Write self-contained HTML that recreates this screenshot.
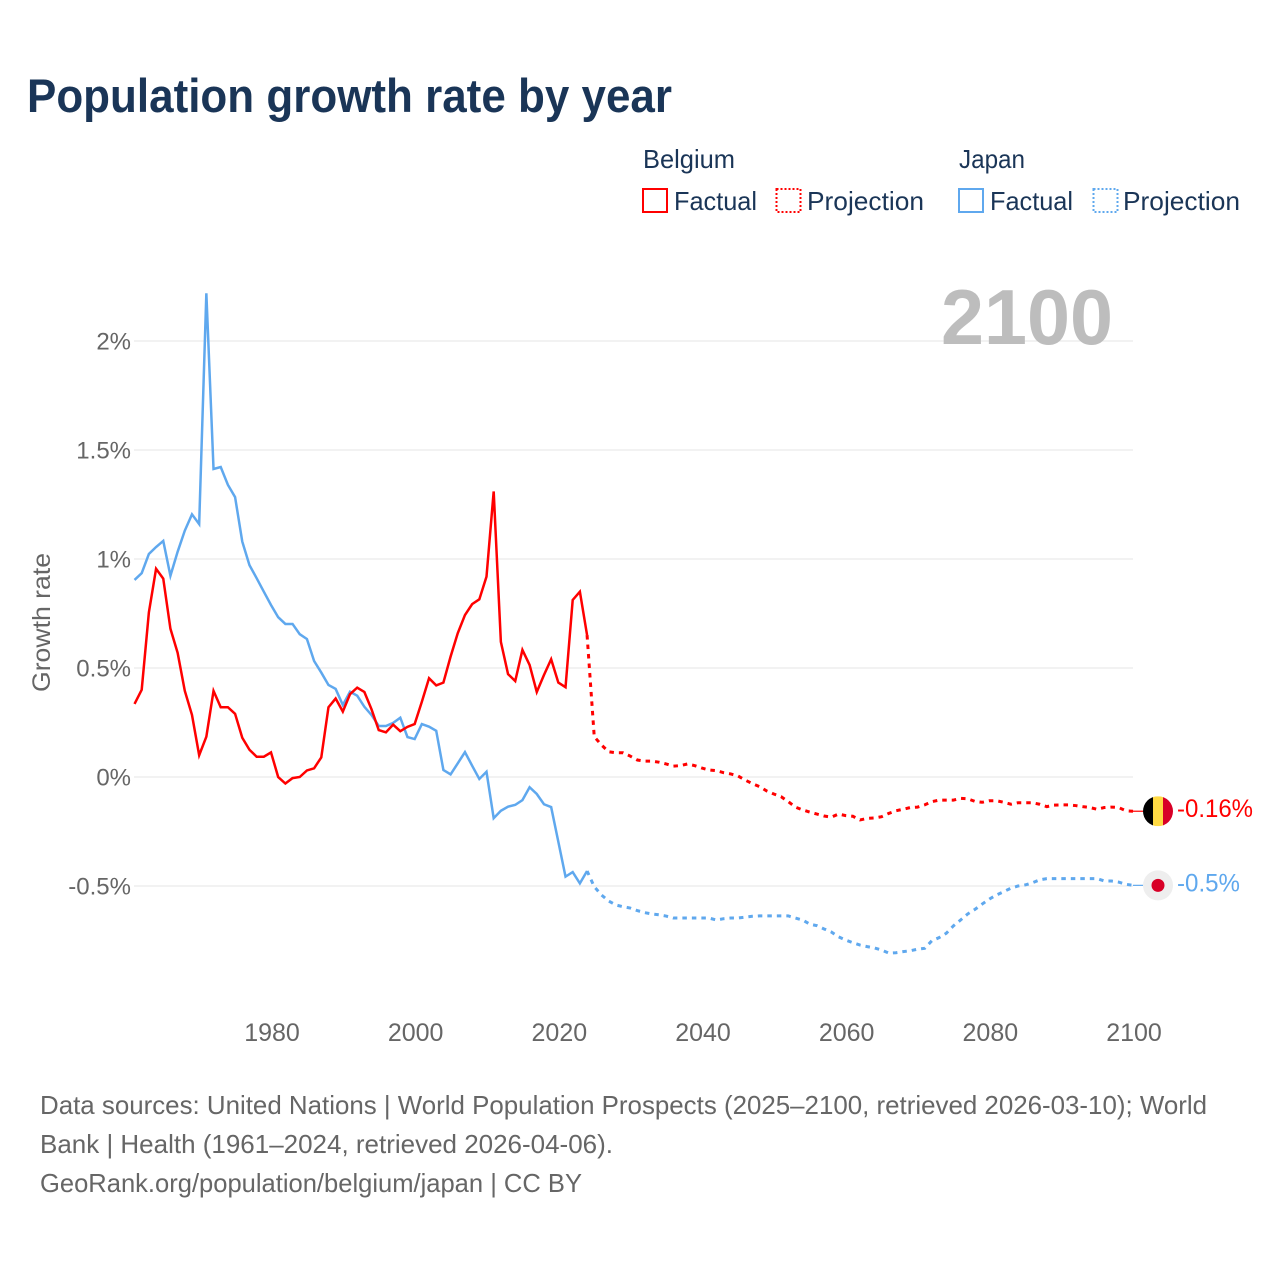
<!DOCTYPE html>
<html lang="en">
<head>
<meta charset="utf-8">
<title>Population growth rate by year</title>
<style>
html,body{margin:0;padding:0;background:#fff;}
svg{display:block;font-family:"Liberation Sans",sans-serif;}
</style>
</head>
<body>
<svg id="chart" width="1280" height="1280" viewBox="0 0 1280 1280" xmlns="http://www.w3.org/2000/svg">
  <rect width="1280" height="1280" fill="#ffffff"/>
  <text x="27" y="112" font-size="47" font-weight="700" fill="#1a3557" textLength="645" lengthAdjust="spacingAndGlyphs">Population growth rate by year</text>

  <g font-size="26" fill="#1a3557">
    <text x="643" y="168" textLength="92" lengthAdjust="spacingAndGlyphs">Belgium</text>
    <rect x="643" y="189" width="24" height="23" fill="none" stroke="#ff0000" stroke-width="2"/>
    <text x="674" y="210" textLength="83" lengthAdjust="spacingAndGlyphs">Factual</text>
    <rect x="776.5" y="189" width="24" height="23" fill="none" stroke="#ff0000" stroke-width="2" stroke-dasharray="2 2"/>
    <text x="807" y="210" textLength="117" lengthAdjust="spacingAndGlyphs">Projection</text>
    <text x="959" y="168" textLength="66" lengthAdjust="spacingAndGlyphs">Japan</text>
    <rect x="959" y="189" width="24" height="23" fill="none" stroke="#5fa8ee" stroke-width="2"/>
    <text x="990" y="210" textLength="83" lengthAdjust="spacingAndGlyphs">Factual</text>
    <rect x="1093.5" y="189" width="24" height="23" fill="none" stroke="#5fa8ee" stroke-width="2" stroke-dasharray="2 2"/>
    <text x="1123" y="210" textLength="117" lengthAdjust="spacingAndGlyphs">Projection</text>
  </g>

  <g id="grid"></g>
  <g id="yticks"></g>
  <g id="xticks"></g>

  <text transform="translate(50,692) rotate(-90)" font-size="25" fill="#666666" textLength="139" lengthAdjust="spacingAndGlyphs">Growth rate</text>
  <text x="941" y="344" font-size="78" font-weight="700" fill="#bdbdbd" textLength="172" lengthAdjust="spacingAndGlyphs">2100</text>

  <g id="series"></g>

  <g id="end-markers">
    <g id="flag-belgium">
      <clipPath id="be-clip"><circle cx="1158" cy="0" r="15"/></clipPath>
      <g clip-path="url(#be-clip)">
        <rect x="1143" y="-15" width="10" height="30" fill="#000000"/>
        <rect x="1153" y="-15" width="10" height="30" fill="#ffda44"/>
        <rect x="1163" y="-15" width="10" height="30" fill="#d80027"/>
      </g>
    </g>
    <g id="flag-japan">
      <circle cx="1158" cy="0" r="15" fill="#eeeeee"/>
      <circle cx="1158" cy="0" r="6.5" fill="#d80027"/>
    </g>
    <text id="label-belgium" x="1177" font-size="25" fill="#ff0000" textLength="76" lengthAdjust="spacingAndGlyphs"></text>
    <text id="label-japan" x="1177" font-size="25" fill="#5fa8ee" textLength="63" lengthAdjust="spacingAndGlyphs"></text>
  </g>

  <g font-size="26" fill="#666666">
    <text x="40" y="1114" textLength="1167" lengthAdjust="spacingAndGlyphs">Data sources: United Nations | World Population Prospects (2025–2100, retrieved 2026-03-10); World</text>
    <text x="40" y="1153" textLength="573" lengthAdjust="spacingAndGlyphs">Bank | Health (1961–2024, retrieved 2026-04-06).</text>
    <text x="40" y="1192" textLength="542" lengthAdjust="spacingAndGlyphs">GeoRank.org/population/belgium/japan | CC BY</text>
  </g>
</svg>

<script>
const factualStartYear = 1961;
const projectionStartYear = 2024;

const belgiumFactual = [0.335,0.40,0.755,0.955,0.91,0.68,0.57,0.395,0.285,0.10,0.185,0.395,0.32,0.32,0.29,0.18,0.125,0.093,0.093,0.113,0.0,-0.03,-0.005,0.0,0.03,0.04,0.09,0.32,0.36,0.30,0.38,0.41,0.39,0.31,0.215,0.205,0.24,0.21,0.23,0.243,0.345,0.453,0.42,0.433,0.552,0.66,0.743,0.793,0.815,0.919,1.31,0.62,0.472,0.44,0.583,0.514,0.39,0.468,0.54,0.433,0.412,0.812,0.85,0.651];

const belgiumProjection = [0.651,0.185,0.147,0.116,0.111,0.111,0.096,0.078,0.073,0.073,0.068,0.06,0.05,0.052,0.06,0.052,0.041,0.032,0.029,0.02,0.014,0.005,-0.014,-0.03,-0.044,-0.064,-0.078,-0.09,-0.113,-0.138,-0.151,-0.161,-0.17,-0.179,-0.184,-0.17,-0.177,-0.18,-0.197,-0.19,-0.188,-0.182,-0.167,-0.155,-0.148,-0.14,-0.138,-0.128,-0.113,-0.106,-0.106,-0.106,-0.098,-0.10,-0.112,-0.116,-0.109,-0.109,-0.116,-0.125,-0.118,-0.118,-0.118,-0.125,-0.136,-0.129,-0.128,-0.128,-0.131,-0.136,-0.14,-0.148,-0.14,-0.138,-0.14,-0.155,-0.157];

const japanFactual = [0.904,0.935,1.023,1.055,1.083,0.923,1.033,1.13,1.205,1.16,2.219,1.413,1.422,1.34,1.284,1.08,0.972,0.912,0.85,0.789,0.733,0.702,0.702,0.655,0.633,0.532,0.479,0.422,0.404,0.33,0.391,0.373,0.322,0.284,0.234,0.234,0.248,0.272,0.183,0.174,0.243,0.231,0.212,0.032,0.012,0.063,0.114,0.052,-0.009,0.024,-0.189,-0.155,-0.136,-0.128,-0.106,-0.047,-0.078,-0.125,-0.138,-0.297,-0.457,-0.436,-0.488,-0.431];

const japanProjection = [-0.431,-0.503,-0.541,-0.569,-0.587,-0.595,-0.601,-0.613,-0.622,-0.628,-0.632,-0.638,-0.647,-0.647,-0.647,-0.647,-0.647,-0.647,-0.656,-0.65,-0.647,-0.647,-0.643,-0.639,-0.637,-0.637,-0.637,-0.637,-0.637,-0.647,-0.656,-0.675,-0.682,-0.697,-0.711,-0.733,-0.748,-0.76,-0.771,-0.778,-0.784,-0.794,-0.808,-0.806,-0.801,-0.797,-0.79,-0.786,-0.751,-0.737,-0.717,-0.683,-0.656,-0.628,-0.607,-0.583,-0.56,-0.541,-0.526,-0.51,-0.5,-0.495,-0.485,-0.472,-0.466,-0.466,-0.466,-0.466,-0.466,-0.466,-0.466,-0.466,-0.477,-0.477,-0.482,-0.492,-0.497];

const yTickValues = [2,1.5,1,0.5,0,-0.5];
const yTickLabels = ["2%","1.5%","1%","0.5%","0%","-0.5%"];
const xTickValues = [1980,2000,2020,2040,2060,2080,2100];
const endLabelBelgium = "-0.16%";
const endLabelJapan = "-0.5%";

const NS = "http://www.w3.org/2000/svg";
const xScale = function (year) { return 271 + (year - 1980) * (862 / 120); };
const yScale = function (value) { return 777 - value * 218; };

function make(tag, parentId) {
  const el = document.createElementNS(NS, tag);
  document.getElementById(parentId).appendChild(el);
  return el;
}

yTickValues.forEach(function (value, i) {
  const y = yScale(value);
  const line = make("line", "grid");
  
  
  line.setAttribute("x1", 134);
  line.setAttribute("x2", 1133);
  line.setAttribute("y1", y);
  line.setAttribute("y2", y);
  line.setAttribute("stroke", "#e4e4e4");
  line.setAttribute("stroke-width", "1");

  const label = make("text", "yticks");
  
  
  label.setAttribute("x", 131);
  label.setAttribute("y", y + 8.5);
  label.setAttribute("text-anchor", "end");
  label.setAttribute("font-size", "24");
  label.setAttribute("fill", "#666666");
  label.textContent = yTickLabels[i];
});

xTickValues.forEach(function (year) {
  const label = make("text", "xticks");
  
  
  label.setAttribute("x", xScale(year) + 1);
  label.setAttribute("y", 1041);
  label.setAttribute("text-anchor", "middle");
  label.setAttribute("font-size", "25");
  label.setAttribute("fill", "#666666");
  label.textContent = String(year);
});

function pathFrom(values, startYear) {
  return values.map(function (v, i) {
    return (i ? "L" : "M") + xScale(startYear + i).toFixed(2) + " " + yScale(v).toFixed(2);
  }).join(" ");
}

function drawLine(values, startYear, color, dashed, name) {
  const p = make("path", "series");
  
  
  p.setAttribute("d", pathFrom(values, startYear));
  p.setAttribute("fill", "none");
  p.setAttribute("stroke", color);
  p.setAttribute("stroke-width", dashed ? "3" : "2.5");
  p.setAttribute("stroke-linejoin", "miter");
  p.setAttribute("stroke-miterlimit", "10");
  if (dashed) { p.setAttribute("stroke-dasharray", "4.5 5"); }
}

drawLine(japanFactual, factualStartYear, "#5fa8ee", false, "japan-factual-line");
drawLine(belgiumFactual, factualStartYear, "#ff0000", false, "belgium-factual-line");
drawLine(belgiumProjection, projectionStartYear, "#ff0000", true, "belgium-projection-line");
drawLine(japanProjection, projectionStartYear, "#5fa8ee", true, "japan-projection-line");

function placeEnd(values, flagId, labelId, text, color, labelOffset, name) {
  const last = values[values.length - 1];
  const y = yScale(last);
  document.getElementById(flagId).setAttribute("transform", "translate(0," + y + ")");
  const label = document.getElementById(labelId);
  label.setAttribute("y", y + labelOffset);
  label.textContent = text;
  const c = make("line", "series");
  
  
  c.setAttribute("x1", xScale(2100));
  c.setAttribute("x2", 1143);
  c.setAttribute("y1", y);
  c.setAttribute("y2", y);
  c.setAttribute("stroke", color);
  c.setAttribute("stroke-width", "1.2");
}

placeEnd(belgiumProjection, "flag-belgium", "label-belgium", endLabelBelgium, "#ff0000", 6, "belgium-end-connector");
placeEnd(japanProjection, "flag-japan", "label-japan", endLabelJapan, "#5fa8ee", 6, "japan-end-connector");
</script>
</body>
</html>
